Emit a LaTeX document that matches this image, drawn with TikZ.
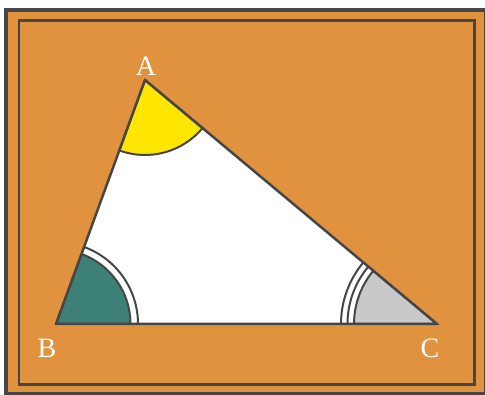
\documentclass[tikz,border=0pt]{standalone}
\usepackage{fontspec}
\setmainfont{Liberation Serif}
\definecolor{bgorange}{RGB}{225,146,62}
\definecolor{linegray}{RGB}{70,70,70}
\definecolor{angyellow}{RGB}{255,230,0}
\definecolor{angteal}{RGB}{61,128,120}
\definecolor{anggray}{RGB}{201,201,203}
\begin{document}
\begin{tikzpicture}[x=1pt,y=1pt,
  frameline/.style={draw=linegray},
  edge/.style={draw=linegray,line width=2.5pt,line join=round},
  anglearc/.style={draw=linegray,line width=2pt},
  vlabel/.style={text=white,font=\fontsize{28}{30}\selectfont,inner sep=0pt}]
\useasboundingbox (0,0) rectangle (485,394);
% background and frames
\fill[bgorange] (6,0) rectangle (485,383.5);
\draw[frameline,line width=4pt] (6,0.5) rectangle (485.5,383.5);
\draw[frameline,line width=2.4pt] (18.7,9.5) rectangle (474.3,373.5);
% vertices
\coordinate (A) at (145,314);
\coordinate (B) at (56,70);
\coordinate (C) at (437,70);
% triangle interior
\fill[white] (A) -- (B) -- (C) -- cycle;
% angle at A
\filldraw[fill=angyellow,anglearc] (A) -- ++(249.96:75) arc (249.96:320.12:75) -- cycle;
% angle at B
\filldraw[fill=angteal,anglearc] (B) -- ++(0:74.5) arc (0:69.96:74.5) -- cycle;
\draw[anglearc] (B) ++(0:82) arc (0:69.96:82);
% angle at C
\filldraw[fill=anggray,anglearc] (C) -- ++(140.12:83) arc (140.12:180:83) -- cycle;
\draw[anglearc] (C) ++(140.12:89.5) arc (140.12:180:89.5);
\draw[anglearc] (C) ++(140.12:96) arc (140.12:180:96);
% triangle outline
\draw[edge] (A) -- (B) -- (C) -- cycle;
% labels
\node[vlabel] (la) at (146,328) {A};
\node[vlabel] (lb) at (47,46) {B};
\node[vlabel] (lc) at (430,46) {C};
\end{tikzpicture}
\end{document}
